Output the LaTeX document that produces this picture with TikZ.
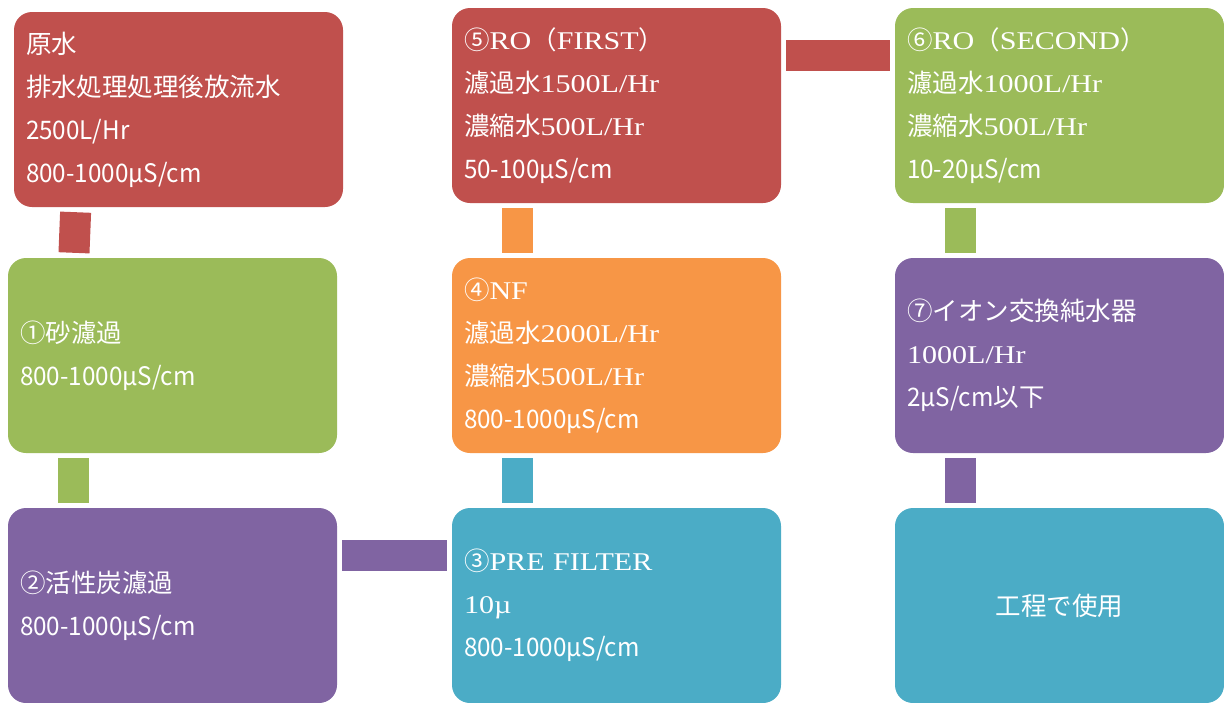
\documentclass[tikz,border=0pt]{standalone}
\usepackage{fontspec}
\setmainfont[FakeStretch=1.18]{Liberation Serif}
\newfontfamily\jp{Noto Sans CJK JP}
\newfontfamily\gl[FakeStretch=0.95]{Noto Sans CJK JP}
\definecolor{cred}{HTML}{C0504D}
\definecolor{cgreen}{HTML}{9BBB59}
\definecolor{cpurple}{HTML}{8064A2}
\definecolor{corange}{HTML}{F79646}
\definecolor{cteal}{HTML}{4BACC6}
\tikzset{
  box/.style={rectangle, rounded corners=18pt, minimum width=329pt, minimum height=195pt,
    inner sep=0pt, text width=305pt, align=left, text=white,
    font=\fontsize{25.5}{43}\selectfont},
  conn/.style={line width=31pt, shorten >=5pt, shorten <=5pt}
}
\begin{document}
\begin{tikzpicture}[x=1pt,y=-1pt]
\useasboundingbox (0,0) rectangle (1224,702);
% boxes
\node[box, fill=cred] (raw) at (178.5,109.5) {{\jp 原水}\\{\jp 排水処理処理後放流水}\\{\gl 2500L/Hr}\\{\gl 800-1000µS/cm}};
\node[box, fill=cgreen] (s1) at (172.5,355.5) {{\jp ①砂濾過}\\{\gl 800-1000µS/cm}};
\node[box, fill=cpurple] (s2) at (172.5,605.5) {{\jp ②活性炭濾過}\\{\gl 800-1000µS/cm}};
\node[box, fill=cteal] (s3) at (616.5,605.5) {{\jp ③}PRE FILTER\\10µ\\{\gl 800-1000µS/cm}};
\node[box, fill=corange] (s4) at (616.5,355.5) {{\jp ④}NF\\{\jp 濾過水}2000L/Hr\\{\jp 濃縮水}500L/Hr\\{\gl 800-1000µS/cm}};
\node[box, fill=cred] (s5) at (616.5,105.5) {{\jp ⑤}RO{\jp （}FIRST{\jp ）}\\{\jp 濾過水}1500L/Hr\\{\jp 濃縮水}500L/Hr\\{\gl 50-100µS/cm}};
\node[box, fill=cgreen] (s6) at (1059.5,105.5) {{\jp ⑥}RO{\jp （}SECOND{\jp ）}\\{\jp 濾過水}1000L/Hr\\{\jp 濃縮水}500L/Hr\\{\gl 10-20µS/cm}};
\node[box, fill=cpurple] (s7) at (1059.5,355.5) {{\jp ⑦イオン交換純水器}\\1000L/Hr\\{\gl 2µS/cm}{\jp 以下}};
\node[box, fill=cteal, align=center] (use) at (1059.5,605.5) {{\jp 工程で使用}};
% connectors
\draw[conn, cred] ([xshift=62pt]raw.south west) -- ([xshift=66pt]s1.north west);
\draw[conn, cgreen] ([xshift=65.5pt]s1.south west) -- ([xshift=65.5pt]s2.north west);
\draw[conn, cpurple] ([yshift=-47.5pt]s2.north east) -- ([yshift=-47.5pt]s3.north west);
\draw[conn, cteal] ([xshift=65.5pt]s3.north west) -- ([xshift=65.5pt]s4.south west);
\draw[conn, corange] ([xshift=65.5pt]s4.north west) -- ([xshift=65.5pt]s5.south west);
\draw[conn, cred] ([yshift=-47.5pt]s5.north east) -- ([yshift=-47.5pt]s6.north west);
\draw[conn, cgreen] ([xshift=65.5pt]s6.south west) -- ([xshift=65.5pt]s7.north west);
\draw[conn, cpurple] ([xshift=65.5pt]s7.south west) -- ([xshift=65.5pt]use.north west);
\end{tikzpicture}
\end{document}
